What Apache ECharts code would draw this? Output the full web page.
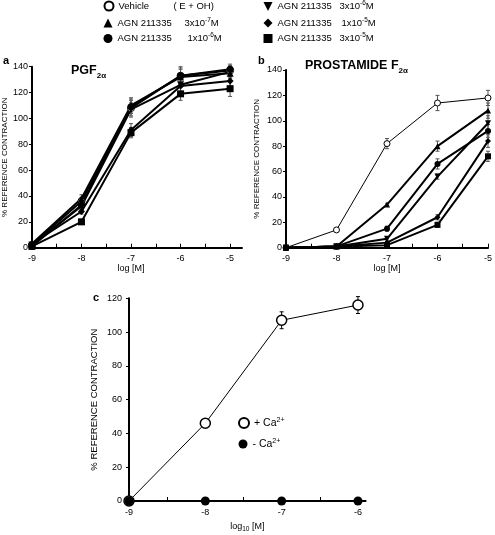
<!DOCTYPE html>
<html><head><meta charset="utf-8">
<script src="https://cdn.jsdelivr.net/npm/echarts@6/dist/echarts.min.js"></script>
<style>html,body{margin:0;padding:0;background:#fff}#c{width:495px;height:535px}</style>
</head><body><div id="c"></div>
<script>
// ---------- DATA ----------
const logConc = [-9, -8, -7, -6, -5];
const xTickLabels = [-9, -8, -7, -6, -5];
const seriesNames = ['Vehicle', 'AGN 211335 3x10-7M', 'AGN 211335 1x10-6M', 'AGN 211335 3x10-6M', 'AGN 211335 1x10-5M', 'AGN 211335 3x10-5M'];

// panel a : PGF2alpha
const aVehicle = [2, 36, 108, 133, 137];
const aAgn3e7  = [3, 38, 110, 132, 135];
const aAgn1e6  = [1, 33, 109, 133, 138];
const aAgn3e6  = [2, 32, 107, 126, 136];
const aAgn1e5  = [3, 28, 91, 125, 129];
const aAgn3e5  = [1, 20, 89, 119, 123];
const aVehicleErr = [1, 3, 7, 7, 5];
const aAgn3e7Err  = [1, 3, 6, 6, 4];
const aAgn1e6Err  = [1, 3, 5, 6, 3];
const aAgn3e6Err  = [1, 3, 5, 5, 4];
const aAgn1e5Err  = [1, 2, 5, 5, 4];
const aAgn3e5Err  = [1, 2, 4, 5, 6];

// panel b : prostamide F2alpha
const bVehicle = [0, 14, 82, 114, 118];
const bAgn3e7  = [0, 1, 34, 80, 108];
const bAgn1e6  = [0, 1, 15, 66, 92];
const bAgn3e6  = [0, 1, 7, 56, 98];
const bAgn1e5  = [0, 1, 4, 24, 84];
const bAgn3e5  = [0, 1, 2, 18, 72];
const bVehicleErr = [0, 1, 4, 6, 6];
const bAgn3e7Err  = [0, 0, 1, 4, 6];
const bAgn1e6Err  = [0, 0, 2, 4, 5];
const bAgn3e6Err  = [0, 0, 1, 2, 6];
const bAgn1e5Err  = [0, 0, 1, 2, 5];
const bAgn3e5Err  = [0, 0, 1, 2, 4];

// panel c : calcium
const cConc = [-9, -8, -7, -6];
const cTickLabels = [-9, -8, -7, -6];
const cPlusCa = [0, 46, 107, 116];
const cMinusCa = [0, 0, 0, 0];
const cPlusCaErr = [0, 1, 5, 5];
const cMinusCaErr = [0, 0, 0, 0];
const cNames = ['+ Ca2+', '- Ca2+'];

// ---------- STYLES ----------
const FONT = 'Liberation Sans, Arial, sans-serif';
const INV_TRI = 'path://M0,0L10,0L5,10Z';
const symStyles = [
  { symbol: 'circle', rot: 0, fill: '#fff', icon: 'circle' },
  { symbol: 'triangle', rot: 0, fill: '#000', icon: 'triangle' },
  { symbol: 'circle', rot: 0, fill: '#000', icon: 'circle' },
  { symbol: 'triangle', rot: 180, fill: '#000', icon: INV_TRI },
  { symbol: 'diamond', rot: 0, fill: '#000', icon: 'diamond' },
  { symbol: 'rect', rot: 0, fill: '#000', icon: 'rect' }
];

const aValues = [aVehicle, aAgn3e7, aAgn1e6, aAgn3e6, aAgn1e5, aAgn3e5];
const aErrs = [aVehicleErr, aAgn3e7Err, aAgn1e6Err, aAgn3e6Err, aAgn1e5Err, aAgn3e5Err];
const bValues = [bVehicle, bAgn3e7, bAgn1e6, bAgn3e6, bAgn1e5, bAgn3e5];
const bErrs = [bVehicleErr, bAgn3e7Err, bAgn1e6Err, bAgn3e6Err, bAgn1e5Err, bAgn3e5Err];

function pairs(xs, ys) { return xs.map((x, i) => [x, ys[i]]); }
function triples(xs, ys, es) { return xs.map((x, i) => [x, ys[i], es[i]]); }

function errSeries(idx, data, color) {
  return {
    type: 'custom', xAxisIndex: idx, yAxisIndex: idx, z: 1, silent: true,
    data: data,
    renderItem: function (params, api) {
      const x = api.value(0), y = api.value(1), e = api.value(2);
      if (!e) return null;
      const p1 = api.coord([x, y - e]), p2 = api.coord([x, y + e]);
      const w = 2;
      const st = { stroke: color, lineWidth: 1 };
      return { type: 'group', children: [
        { type: 'line', shape: { x1: p1[0], y1: p1[1], x2: p2[0], y2: p2[1] }, style: st },
        { type: 'line', shape: { x1: p1[0] - w, y1: p1[1], x2: p1[0] + w, y2: p1[1] }, style: st },
        { type: 'line', shape: { x1: p2[0] - w, y1: p2[1], x2: p2[0] + w, y2: p2[1] }, style: st }
      ] };
    }
  };
}

function lineSeries(idx, name, data, st, size, lw) {
  return {
    type: 'line', name: name, xAxisIndex: idx, yAxisIndex: idx, data: data,
    symbol: st.symbol, symbolRotate: st.rot, symbolSize: size, showAllSymbol: true,
    lineStyle: { color: '#000', width: lw },
    itemStyle: { color: st.fill, borderColor: '#000', borderWidth: st.fill === '#fff' ? 1 : 0 },
    emphasis: { disabled: true }, animation: false, z: 3
  };
}

const series = [];
aValues.forEach((v, i) => {
  series.push(errSeries(0, triples(logConc, v, aErrs[i]), '#555'));
  series.push(lineSeries(0, seriesNames[i], pairs(logConc, v), symStyles[i], 7, 2));
});
bValues.forEach((v, i) => {
  series.push(errSeries(1, triples(logConc, v, bErrs[i]), '#555'));
  series.push(lineSeries(1, seriesNames[i], pairs(logConc, v), symStyles[i], 6, i === 0 ? 1 : 2));
});
series.push(errSeries(2, triples(cConc, cPlusCa, cPlusCaErr), '#000'));
series.push(Object.assign(lineSeries(2, cNames[0], pairs(cConc, cPlusCa), { symbol: 'circle', rot: 0, fill: '#fff' }, 10, 1),
  { itemStyle: { color: '#fff', borderColor: '#000', borderWidth: 1.5 } }));
series.push(errSeries(2, triples(cConc, cMinusCa, cMinusCaErr), '#000'));
series.push(lineSeries(2, cNames[1], pairs(cConc, cMinusCa), { symbol: 'circle', rot: 0, fill: '#000' }, 9, 1));

function xAxis(idx, min, max, labels, ticks, name, nameGap, namePad, lm) {
  return {
    type: 'value', gridIndex: idx, min: min, max: max,
    axisLine: { show: true, onZero: false, lineStyle: { color: '#000', width: 2 } },
    axisTick: { show: true, inside: true, length: 4, lineStyle: { color: '#000', width: 1 }, customValues: ticks },
    axisLabel: { customValues: labels, fontSize: 9, color: '#000', fontFamily: FONT, margin: lm,
      formatter: v => String(v) },
    splitLine: { show: false },
    name: name, nameLocation: 'middle', nameGap: nameGap,
    nameTextStyle: { fontSize: 9, color: '#000', fontFamily: FONT, padding: namePad,
      rich: { sub: { fontSize: 6.5, verticalAlign: 'bottom', lineHeight: 6 }, n: { fontSize: 9, lineHeight: 12 } } }
  };
}
function yAxis(idx, max, nameGap, nameSize, lm) {
  return {
    type: 'value', gridIndex: idx, min: 0, max: max, interval: 20,
    axisLine: { show: true, lineStyle: { color: '#000', width: 2 } },
    axisTick: { show: true, inside: false, length: 3, lineStyle: { color: '#000', width: 1 } },
    axisLabel: { fontSize: 9, color: '#000', fontFamily: FONT, margin: lm },
    splitLine: { show: false },
    name: '% REFERENCE CONTRACTION', nameLocation: 'middle', nameGap: nameGap,
    nameTextStyle: { fontSize: nameSize, color: '#000', fontFamily: FONT }
  };
}

const halfTicks = [-9, -8.5, -8, -7.5, -7, -6.5, -6, -5.5, -5];
const halfTicksC = [-9, -8.5, -8, -7.5, -7, -6.5, -6];

// legend
const legendText = {
  'Vehicle': '{w55|Vehicle}{n|( E + OH)}',
  'AGN 211335 3x10-7M': '{w67|AGN 211335}{n|3x10}{sup|-7}{n|M}',
  'AGN 211335 1x10-6M': '{w70|AGN 211335}{n|1x10}{sup|-6}{n|M}',
  'AGN 211335 3x10-6M': '{w62|AGN 211335}{n|3x10}{sup|-6}{n|M}',
  'AGN 211335 1x10-5M': '{w64|AGN 211335}{n|1x10}{sup|-5}{n|M}',
  'AGN 211335 3x10-5M': '{w62|AGN 211335}{n|3x10}{sup|-5}{n|M}',
  '+ Ca2+': '{n|+ Ca}{sup|2+}',
  '- Ca2+': '{n|- Ca}{sup|2+}'
};
function legend(name, icon, left, cy, size, fs) {
  const lh = 12;
  return {
    data: [{ name: name, icon: icon }], left: left, top: cy - lh / 2, padding: 0, itemWidth: size, itemHeight: size,
    selectedMode: false, itemGap: 0,
    textStyle: { fontSize: fs, color: '#000', fontFamily: FONT, rich: {
      w55: { width: 55, fontSize: fs, lineHeight: lh }, w67: { width: 67, fontSize: fs, lineHeight: lh },
      w70: { width: 70, fontSize: fs, lineHeight: lh }, w62: { width: 62, fontSize: fs, lineHeight: lh },
      w64: { width: 64, fontSize: fs, lineHeight: lh },
      n: { fontSize: fs, lineHeight: lh },
      sup: { fontSize: fs * 0.68, verticalAlign: 'top', lineHeight: 7 } } },
    formatter: n => legendText[n]
  };
}

const titleRich = { sub: { fontSize: 8, verticalAlign: 'bottom', lineHeight: 8 }, n: { fontSize: 12.5, lineHeight: 18 } };
const option = {
  backgroundColor: '#fff',
  animation: false,
  title: [
    { text: 'a', left: 3, top: 55, padding: 0, textStyle: { fontSize: 11, fontWeight: 'bold', fontFamily: FONT, color: '#000' } },
    { text: 'b', left: 258, top: 55, padding: 0, textStyle: { fontSize: 11, fontWeight: 'bold', fontFamily: FONT, color: '#000' } },
    { text: 'c', left: 93, top: 292, padding: 0, textStyle: { fontSize: 11, fontWeight: 'bold', fontFamily: FONT, color: '#000' } },
    { text: '{n|PGF}{sub|2α}', left: 71, top: 62, padding: 0, textStyle: { fontFamily: FONT, color: '#000', rich: titleRich } },
    { text: '{n|PROSTAMIDE F}{sub|2α}', left: 305, top: 57, padding: 0, textStyle: { fontFamily: FONT, color: '#000', rich: titleRich } }
  ],
  legend: [
    legend(seriesNames[0], symStyles[0].icon, 103.5, 6.5, 9, 9.5),
    legend(seriesNames[1], symStyles[1].icon, 103.5, 23, 9, 9.5),
    legend(seriesNames[2], symStyles[2].icon, 103.5, 38.5, 9, 9.5),
    legend(seriesNames[3], symStyles[3].icon, 263.5, 6.5, 9, 9.5),
    legend(seriesNames[4], symStyles[4].icon, 263.5, 23, 9, 9.5),
    legend(seriesNames[5], symStyles[5].icon, 263.5, 38.5, 9, 9.5),
    legend(cNames[0], 'circle', 238, 423, 10, 10.5),
    legend(cNames[1], 'circle', 238.5, 444, 9, 10.5)
  ],
  grid: [
    { left: 31, top: 66.7, width: 211, height: 181 },
    { left: 286, top: 70, width: 205, height: 177.7 },
    { left: 129, top: 298.3, width: 236.6, height: 202.7 }
  ],
  xAxis: [
    xAxis(0, -9, -4.76, xTickLabels, halfTicks, '{n|log [M]}', 13, [0, 12, 0, 0], 6),
    xAxis(1, -9, -5, xTickLabels, halfTicks, '{n|log [M]}', 13, [0, 0, 0, 0], 6),
    xAxis(2, -9, -5.9, cTickLabels, halfTicksC, '{n|log}{sub|10}{n| [M]}', 20, [0, 0, 0, 0], 7)
  ],
  yAxis: [
    yAxis(0, 140, 20, 8, 4),
    yAxis(1, 140, 25, 8, 4),
    yAxis(2, 120, 30, 9.5, 7)
  ],
  series: series
};
const chart = echarts.init(document.getElementById('c'), null, { renderer: 'canvas' });
chart.setOption(option);
</script></body></html>
